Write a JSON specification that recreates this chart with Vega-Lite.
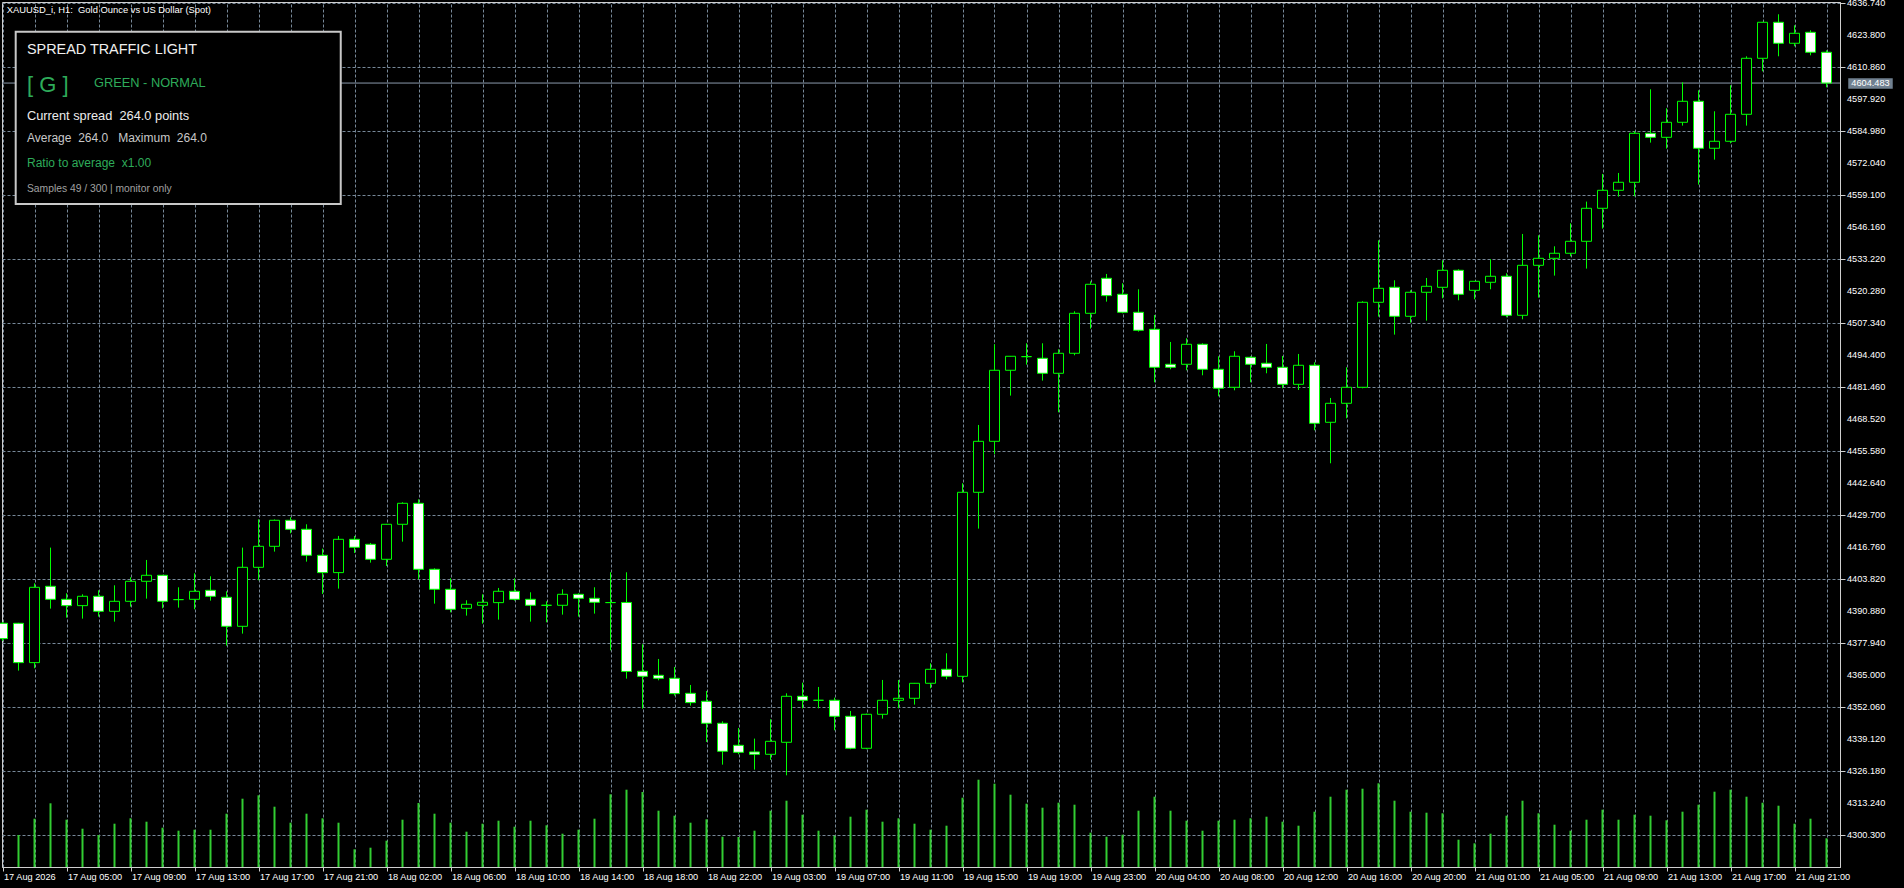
{
  "$schema": "https://vega.github.io/schema/vega-lite/v6.json",
  "width": 1838,
  "height": 865,
  "autosize": {"type": "none"},
  "padding": {"left": 2, "top": 2, "right": 64, "bottom": 21},
  "background": "#000000",
  "config": {
    "view": {"stroke": "#cfcfcf", "strokeWidth": 1, "fill": "#000000"},
    "font": "Liberation Sans",
    "axis": {"labelFont": "Liberation Sans", "labelFontSize": 9.2, "labelColor": "#ffffff", "title": null},
    "scale": {"continuousPadding": 0}
  },
  "datasets": {
    "bars": [
      {"i":0,"o":4386.03,"h":4386.6,"l":4378.9,"c":4379.83,"v":null},
      {"i":1,"o":4386.03,"h":4386.2,"l":4366.89,"c":4370.12,"v":1920},
      {"i":2,"o":4370.12,"h":4402.2,"l":4367.83,"c":4400.58,"v":2898},
      {"i":3,"o":4400.99,"h":4416.63,"l":4391.96,"c":4395.73,"v":3822},
      {"i":4,"o":4395.73,"h":4398.16,"l":4388.31,"c":4393.17,"v":2838},
      {"i":5,"o":4393.17,"h":4397.75,"l":4387.91,"c":4396.95,"v":2298},
      {"i":6,"o":4396.95,"h":4399.37,"l":4388.72,"c":4390.88,"v":1920},
      {"i":7,"o":4390.88,"h":4401.39,"l":4386.7,"c":4394.92,"v":2598},
      {"i":8,"o":4394.92,"h":4404.63,"l":4392.77,"c":4403.01,"v":2922},
      {"i":9,"o":4403.01,"h":4411.64,"l":4396.0,"c":4405.44,"v":2718},
      {"i":10,"o":4405.44,"h":4405.6,"l":4392.09,"c":4394.92,"v":2358},
      {"i":11,"o":4395.6,"h":4400.58,"l":4392.36,"c":4395.6,"v":2178},
      {"i":12,"o":4395.73,"h":4406.25,"l":4391.69,"c":4398.97,"v":2238},
      {"i":13,"o":4399.37,"h":4405.03,"l":4395.19,"c":4396.95,"v":2238},
      {"i":14,"o":4396.54,"h":4398.97,"l":4377.0,"c":4384.81,"v":3198},
      {"i":15,"o":4384.81,"h":4416.63,"l":4381.85,"c":4408.67,"v":4098},
      {"i":16,"o":4408.67,"h":4428.08,"l":4403.42,"c":4417.16,"v":4302},
      {"i":17,"o":4417.16,"h":4428.0,"l":4415.01,"c":4427.68,"v":3618},
      {"i":18,"o":4427.68,"h":4428.89,"l":4422.42,"c":4424.04,"v":2658},
      {"i":19,"o":4424.04,"h":4426.06,"l":4410.96,"c":4413.52,"v":3198},
      {"i":20,"o":4413.52,"h":4416.22,"l":4397.89,"c":4406.52,"v":2922},
      {"i":21,"o":4406.52,"h":4421.34,"l":4400.05,"c":4419.99,"v":2658},
      {"i":22,"o":4419.99,"h":4421.34,"l":4414.47,"c":4416.76,"v":1062},
      {"i":23,"o":4417.97,"h":4418.51,"l":4410.56,"c":4411.91,"v":1158},
      {"i":24,"o":4411.91,"h":4426.2,"l":4409.21,"c":4426.06,"v":1578},
      {"i":25,"o":4426.06,"h":4434.96,"l":4419.05,"c":4434.55,"v":2838},
      {"i":26,"o":4434.55,"h":4436.17,"l":4403.82,"c":4407.86,"v":3840},
      {"i":27,"o":4407.86,"h":4408.27,"l":4393.98,"c":4399.78,"v":3198},
      {"i":28,"o":4399.78,"h":4404.22,"l":4390.48,"c":4391.69,"v":2658},
      {"i":29,"o":4392.09,"h":4395.33,"l":4389.13,"c":4393.71,"v":2118},
      {"i":30,"o":4393.31,"h":4397.75,"l":4385.89,"c":4394.52,"v":2598},
      {"i":31,"o":4394.38,"h":4400.32,"l":4387.51,"c":4398.97,"v":2778},
      {"i":32,"o":4398.97,"h":4404.22,"l":4395.19,"c":4395.73,"v":2418},
      {"i":33,"o":4395.73,"h":4398.56,"l":4386.7,"c":4393.31,"v":2778},
      {"i":34,"o":4393.3,"h":4394.92,"l":4386.43,"c":4393.3,"v":2502},
      {"i":35,"o":4393.31,"h":4399.78,"l":4389.53,"c":4397.75,"v":1998},
      {"i":36,"o":4397.75,"h":4398.16,"l":4388.72,"c":4396.14,"v":2238},
      {"i":37,"o":4396.14,"h":4400.59,"l":4389.94,"c":4394.52,"v":2898},
      {"i":38,"o":4394.4,"h":4406.65,"l":4375.11,"c":4394.4,"v":4362},
      {"i":39,"o":4394.45,"h":4406.65,"l":4363.65,"c":4366.55,"v":4638},
      {"i":40,"o":4366.62,"h":4377.54,"l":4351.52,"c":4364.6,"v":4500},
      {"i":41,"o":4365.0,"h":4371.6,"l":4362.98,"c":4363.79,"v":3378},
      {"i":42,"o":4363.79,"h":4368.37,"l":4356.78,"c":4357.59,"v":3078},
      {"i":43,"o":4357.72,"h":4361.09,"l":4352.74,"c":4353.95,"v":2658},
      {"i":44,"o":4354.49,"h":4358.66,"l":4338.04,"c":4345.59,"v":2862},
      {"i":45,"o":4345.59,"h":4346.4,"l":4328.87,"c":4334.27,"v":1818},
      {"i":46,"o":4336.69,"h":4343.7,"l":4333.05,"c":4333.86,"v":1800},
      {"i":47,"o":4334.0,"h":4339.4,"l":4326.85,"c":4333.05,"v":2178},
      {"i":48,"o":4333.05,"h":4347.21,"l":4330.76,"c":4338.31,"v":3378},
      {"i":49,"o":4337.91,"h":4357.72,"l":4324.56,"c":4356.51,"v":3978},
      {"i":50,"o":4356.51,"h":4362.03,"l":4351.65,"c":4354.89,"v":3138},
      {"i":51,"o":4354.89,"h":4360.28,"l":4351.65,"c":4354.89,"v":2178},
      {"i":52,"o":4354.89,"h":4355.97,"l":4342.76,"c":4348.42,"v":1878},
      {"i":53,"o":4348.42,"h":4350.58,"l":4335.08,"c":4335.48,"v":3018},
      {"i":54,"o":4335.48,"h":4349.5,"l":4335.08,"c":4349.23,"v":3438},
      {"i":55,"o":4349.23,"h":4363.11,"l":4347.48,"c":4354.89,"v":2718},
      {"i":56,"o":4354.89,"h":4363.11,"l":4351.65,"c":4355.7,"v":2922},
      {"i":57,"o":4355.7,"h":4361.9,"l":4353.14,"c":4361.77,"v":2598},
      {"i":58,"o":4361.77,"h":4369.85,"l":4359.74,"c":4367.43,"v":2238},
      {"i":59,"o":4367.43,"h":4373.9,"l":4363.38,"c":4364.6,"v":2478},
      {"i":60,"o":4364.6,"h":4442.64,"l":4362.17,"c":4439.0,"v":4158},
      {"i":61,"o":4439.0,"h":4466.23,"l":4424.31,"c":4459.62,"v":5238},
      {"i":62,"o":4459.62,"h":4498.85,"l":4454.5,"c":4488.34,"v":4998},
      {"i":63,"o":4488.34,"h":4494.1,"l":4478.09,"c":4494.0,"v":4338},
      {"i":64,"o":4493.86,"h":4499.25,"l":4490.63,"c":4493.86,"v":3798},
      {"i":65,"o":4493.19,"h":4499.25,"l":4484.16,"c":4487.12,"v":3558},
      {"i":66,"o":4487.12,"h":4496.83,"l":4471.35,"c":4495.21,"v":3858},
      {"i":67,"o":4495.21,"h":4512.19,"l":4494.4,"c":4511.38,"v":3738},
      {"i":68,"o":4511.38,"h":4524.32,"l":4505.18,"c":4523.11,"v":2058},
      {"i":69,"o":4525.54,"h":4527.29,"l":4516.1,"c":4518.53,"v":1818},
      {"i":70,"o":4519.07,"h":4523.52,"l":4511.38,"c":4511.79,"v":1938},
      {"i":71,"o":4511.79,"h":4521.09,"l":4503.97,"c":4504.51,"v":3378},
      {"i":72,"o":4504.91,"h":4510.71,"l":4483.48,"c":4489.55,"v":4218},
      {"i":73,"o":4490.76,"h":4499.79,"l":4488.74,"c":4489.55,"v":3378},
      {"i":74,"o":4490.76,"h":4501.27,"l":4488.33,"c":4498.85,"v":2778},
      {"i":75,"o":4498.85,"h":4499.25,"l":4486.31,"c":4488.74,"v":2178},
      {"i":76,"o":4488.74,"h":4494.0,"l":4477.82,"c":4481.06,"v":2778},
      {"i":77,"o":4481.46,"h":4496.02,"l":4480.25,"c":4494.0,"v":2838},
      {"i":78,"o":4493.59,"h":4494.0,"l":4483.48,"c":4490.76,"v":2922},
      {"i":79,"o":4491.17,"h":4498.98,"l":4487.12,"c":4489.55,"v":3018},
      {"i":80,"o":4489.55,"h":4494.13,"l":4481.06,"c":4482.67,"v":2718},
      {"i":81,"o":4482.67,"h":4494.94,"l":4480.38,"c":4490.36,"v":2478},
      {"i":82,"o":4490.36,"h":4491.57,"l":4464.07,"c":4466.9,"v":3318},
      {"i":83,"o":4467.31,"h":4477.15,"l":4450.73,"c":4474.99,"v":4218},
      {"i":84,"o":4474.99,"h":4489.55,"l":4468.92,"c":4481.46,"v":4638},
      {"i":85,"o":4481.46,"h":4516.24,"l":4481.06,"c":4515.83,"v":4698},
      {"i":86,"o":4515.83,"h":4540.9,"l":4510.03,"c":4521.49,"v":5022},
      {"i":87,"o":4521.9,"h":4524.73,"l":4502.76,"c":4510.17,"v":3978},
      {"i":88,"o":4510.17,"h":4520.68,"l":4507.61,"c":4519.88,"v":3318},
      {"i":89,"o":4519.88,"h":4525.67,"l":4508.42,"c":4522.3,"v":3258},
      {"i":90,"o":4521.9,"h":4532.82,"l":4517.45,"c":4528.77,"v":3222},
      {"i":91,"o":4528.77,"h":4529.18,"l":4516.64,"c":4519.07,"v":1638},
      {"i":92,"o":4520.68,"h":4524.4,"l":4517.05,"c":4524.32,"v":1422},
      {"i":93,"o":4523.92,"h":4533.22,"l":4521.09,"c":4526.35,"v":1998},
      {"i":94,"o":4526.35,"h":4527.56,"l":4509.77,"c":4510.57,"v":3078},
      {"i":95,"o":4510.57,"h":4543.46,"l":4508.96,"c":4530.79,"v":3978},
      {"i":96,"o":4530.79,"h":4542.93,"l":4517.72,"c":4533.62,"v":3222},
      {"i":97,"o":4533.62,"h":4538.47,"l":4526.62,"c":4535.65,"v":2538},
      {"i":98,"o":4535.65,"h":4547.78,"l":4534.43,"c":4540.5,"v":2178},
      {"i":99,"o":4540.5,"h":4556.54,"l":4529.45,"c":4553.84,"v":2838},
      {"i":100,"o":4553.84,"h":4567.73,"l":4545.62,"c":4561.12,"v":3438},
      {"i":101,"o":4561.12,"h":4568.13,"l":4558.56,"c":4564.36,"v":2838},
      {"i":102,"o":4564.36,"h":4584.98,"l":4558.7,"c":4584.17,"v":3138},
      {"i":103,"o":4584.17,"h":4601.96,"l":4580.4,"c":4582.55,"v":3078},
      {"i":104,"o":4582.55,"h":4594.28,"l":4577.97,"c":4588.62,"v":2802},
      {"i":105,"o":4588.62,"h":4604.79,"l":4587.27,"c":4597.11,"v":3318},
      {"i":106,"o":4597.11,"h":4601.56,"l":4563.41,"c":4578.11,"v":3738},
      {"i":107,"o":4578.11,"h":4593.07,"l":4573.52,"c":4580.94,"v":4518},
      {"i":108,"o":4580.94,"h":4603.58,"l":4580.13,"c":4591.85,"v":4638},
      {"i":109,"o":4591.85,"h":4615.31,"l":4587.27,"c":4614.5,"v":4218},
      {"i":110,"o":4614.5,"h":4629.2,"l":4609.24,"c":4629.06,"v":3858},
      {"i":111,"o":4629.06,"h":4632.29,"l":4615.31,"c":4620.57,"v":3678},
      {"i":112,"o":4620.57,"h":4627.84,"l":4619.35,"c":4624.61,"v":2598},
      {"i":113,"o":4625.01,"h":4625.82,"l":4615.71,"c":4616.93,"v":2898},
      {"i":114,"o":4616.93,"h":4617.73,"l":4602.77,"c":4604.48,"v":1722}
    ],
    "levels": [
      {"p":4300.3},{"p":4313.24},{"p":4326.18},{"p":4339.12},{"p":4352.06},{"p":4365.0},{"p":4377.94},{"p":4390.88},{"p":4403.82},
      {"p":4416.76},{"p":4429.7},{"p":4442.64},{"p":4455.58},{"p":4468.52},{"p":4481.46},{"p":4494.4},{"p":4507.34},{"p":4520.28},
      {"p":4533.22},{"p":4546.16},{"p":4559.1},{"p":4572.04},{"p":4584.98},{"p":4597.92},{"p":4610.86},{"p":4623.8},{"p":4636.74}
    ],
    "last": [{"price": 4604.483}]
  },
  "layer": [
    {
      "layer": [
        {
          "data": {"name": "last"},
          "mark": {"type": "rule", "color": "#8a9aab", "strokeWidth": 1},
          "encoding": {
            "y": {"field": "price", "type": "quantitative",
              "scale": {"domain": [4287.48, 4637.26], "nice": false, "zero": false, "padding": 0},
              "axis": {
                "orient": "right",
                "values": [4300.3, 4313.24, 4326.18, 4339.12, 4352.06, 4365.0, 4377.94, 4390.88, 4403.82, 4416.76, 4429.7, 4442.64, 4455.58, 4468.52, 4481.46, 4494.4, 4507.34, 4520.28, 4533.22, 4546.16, 4559.1, 4572.04, 4584.98, 4597.92, 4610.86, 4623.8, 4636.74],
                "grid": true, "gridColor": "#778899", "gridDash": [3, 2], "gridWidth": 1,
                "domain": true, "domainColor": "#cfcfcf",
                "ticks": true, "tickColor": "#cfcfcf", "tickSize": 5,
                "labels": false,
                "title": null
              }
            }
          }
        },
        {
          "data": {"name": "levels"},
          "mark": {"type": "text", "color": "#ffffff", "fontSize": 9.2, "align": "left", "baseline": "middle", "clip": false},
          "encoding": {
            "x": {"datum": 115.28, "type": "quantitative"},
            "y": {"field": "p", "type": "quantitative"},
            "text": {"field": "p", "type": "quantitative", "format": ".3f"}
          }
        },
        {
          "data": {"name": "bars"},
          "mark": {"type": "rule", "color": "#00ff00", "strokeWidth": 1},
          "encoding": {
            "x": {"field": "i", "type": "quantitative",
              "scale": {"domain": [-0.03125, 114.84375], "nice": false, "zero": false, "padding": 0},
              "axis": {
                "orient": "bottom",
                "values": [0, 4, 8, 12, 16, 20, 24, 28, 32, 36, 40, 44, 48, 52, 56, 60, 64, 68, 72, 76, 80, 84, 88, 92, 96, 100, 104, 108, 112],
                "labelExpr": "['17 Aug 2026','17 Aug 05:00','17 Aug 09:00','17 Aug 13:00','17 Aug 17:00','17 Aug 21:00','18 Aug 02:00','18 Aug 06:00','18 Aug 10:00','18 Aug 14:00','18 Aug 18:00','18 Aug 22:00','19 Aug 03:00','19 Aug 07:00','19 Aug 11:00','19 Aug 15:00','19 Aug 19:00','19 Aug 23:00','20 Aug 04:00','20 Aug 08:00','20 Aug 12:00','20 Aug 16:00','20 Aug 20:00','21 Aug 01:00','21 Aug 05:00','21 Aug 09:00','21 Aug 13:00','21 Aug 17:00','21 Aug 21:00'][round(datum.value / 4)]",
                "grid": false,
                "domain": true, "domainColor": "#cfcfcf",
                "ticks": true, "tickColor": "#cfcfcf", "tickSize": 4,
                "labelAlign": "left", "labelBaseline": "top", "labelPadding": 1, "labelOffset": 1,
                "labelFlush": false, "labelOverlap": false, "labelBound": false,
                "title": null
              }
            },
            "y": {"field": "l", "type": "quantitative"},
            "y2": {"field": "h"}
          }
        },
        {
          "data": {"name": "bars"},
          "mark": {"type": "bar", "size": 10, "stroke": "#00ff00", "strokeWidth": 1, "cornerRadius": 0},
          "encoding": {
            "x": {"field": "i", "type": "quantitative"},
            "y": {"field": "o", "type": "quantitative"},
            "y2": {"field": "c"},
            "fill": {"condition": {"test": "datum.c < datum.o", "value": "#ffffff"}, "value": "#000000"}
          }
        },
        {
          "data": {"name": "last"},
          "mark": {"type": "rect", "fill": "#708090", "clip": false},
          "encoding": {
            "x": {"datum": 115.36, "type": "quantitative"},
            "x2": {"datum": 118.14},
            "y": {"datum": 4606.41, "type": "quantitative"},
            "y2": {"datum": 4602.21}
          }
        },
        {
          "data": {"name": "last"},
          "mark": {"type": "text", "color": "#ffffff", "fontSize": 9.2, "align": "center", "baseline": "middle", "clip": false},
          "encoding": {
            "x": {"datum": 116.75, "type": "quantitative"},
            "y": {"field": "price", "type": "quantitative"},
            "text": {"field": "price", "type": "quantitative", "format": ".3f"}
          }
        },
        {
          "data": {"values": [{"text": "XAUUSD_i, H1:\u00a0 Gold Ounce vs US Dollar (Spot)"}]},
          "mark": {"type": "text", "color": "#ffffff", "fontSize": 9.4, "align": "left", "baseline": "middle"},
          "encoding": {
            "x": {"datum": 0.263, "type": "quantitative"},
            "y": {"datum": 4634.03, "type": "quantitative"},
            "text": {"field": "text"}
          }
        },
        {
          "data": {"values": [{"name": "panel"}]},
          "mark": {"type": "rect", "fill": "#000000", "stroke": "#c8c8c8", "strokeWidth": 2},
          "encoding": {
            "x": {"datum": 0.825, "type": "quantitative"},
            "x2": {"datum": 21.14},
            "y": {"datum": 4625.26, "type": "quantitative"},
            "y2": {"datum": 4555.58}
          }
        },
        {
          "data": {"values": [{"text": "SPREAD TRAFFIC LIGHT"}]},
          "mark": {"type": "text", "color": "#f0f0f0", "fontSize": 14.4, "align": "left", "baseline": "middle"},
          "encoding": {
            "x": {"datum": 1.53, "type": "quantitative"},
            "y": {"datum": 4617.86, "type": "quantitative"},
            "text": {"field": "text"}
          }
        },
        {
          "data": {"values": [{"text": "[ G ]"}]},
          "mark": {"type": "text", "color": "#2eab5a", "fontSize": 22, "align": "left", "baseline": "middle"},
          "encoding": {
            "x": {"datum": 1.53, "type": "quantitative"},
            "y": {"datum": 4603.7, "type": "quantitative"},
            "text": {"field": "text"}
          }
        },
        {
          "data": {"values": [{"text": "GREEN - NORMAL"}]},
          "mark": {"type": "text", "color": "#2eab5a", "fontSize": 12.8, "align": "left", "baseline": "middle"},
          "encoding": {
            "x": {"datum": 5.72, "type": "quantitative"},
            "y": {"datum": 4604.63, "type": "quantitative"},
            "text": {"field": "text"}
          }
        },
        {
          "data": {"values": [{"text": "Current spread\u00a0 264.0 points"}]},
          "mark": {"type": "text", "color": "#ececec", "fontSize": 12.8, "align": "left", "baseline": "middle"},
          "encoding": {
            "x": {"datum": 1.53, "type": "quantitative"},
            "y": {"datum": 4591.29, "type": "quantitative"},
            "text": {"field": "text"}
          }
        },
        {
          "data": {"values": [{"text": "Average\u00a0 264.0\u00a0\u00a0 Maximum\u00a0 264.0"}]},
          "mark": {"type": "text", "color": "#c8c8c8", "fontSize": 12, "align": "left", "baseline": "middle"},
          "encoding": {
            "x": {"datum": 1.53, "type": "quantitative"},
            "y": {"datum": 4582.15, "type": "quantitative"},
            "text": {"field": "text"}
          }
        },
        {
          "data": {"values": [{"text": "Ratio to average\u00a0 x1.00"}]},
          "mark": {"type": "text", "color": "#2eab5a", "fontSize": 12, "align": "left", "baseline": "middle"},
          "encoding": {
            "x": {"datum": 1.53, "type": "quantitative"},
            "y": {"datum": 4572.28, "type": "quantitative"},
            "text": {"field": "text"}
          }
        },
        {
          "data": {"values": [{"text": "Samples 49 / 300 | monitor only"}]},
          "mark": {"type": "text", "color": "#a0a0a0", "fontSize": 10.3, "align": "left", "baseline": "middle"},
          "encoding": {
            "x": {"datum": 1.53, "type": "quantitative"},
            "y": {"datum": 4561.53, "type": "quantitative"},
            "text": {"field": "text"}
          }
        }
      ]
    },
    {
      "data": {"name": "bars"},
      "mark": {"type": "rule", "color": "#32cd32", "strokeWidth": 2},
      "encoding": {
        "x": {"field": "i", "type": "quantitative",
          "axis": {
            "orient": "top",
            "values": [0, 2, 4, 6, 8, 10, 12, 14, 16, 18, 20, 22, 24, 26, 28, 30, 32, 34, 36, 38, 40, 42, 44, 46, 48, 50, 52, 54, 56, 58, 60, 62, 64, 66, 68, 70, 72, 74, 76, 78, 80, 82, 84, 86, 88, 90, 92, 94, 96, 98, 100, 102, 104, 106, 108, 110, 112, 114],
            "grid": true, "gridColor": "#778899", "gridDash": [3, 2], "gridWidth": 1,
            "labels": false, "ticks": false, "domain": false, "title": null
          }
        },
        "y": {"field": "v", "type": "quantitative", "scale": {"domain": [0, 51900], "nice": false, "zero": true}, "axis": null},
        "y2": {"datum": 0}
      }
    }
  ],
  "resolve": {"scale": {"y": "independent"}, "axis": {"x": "independent", "y": "independent"}}
}
